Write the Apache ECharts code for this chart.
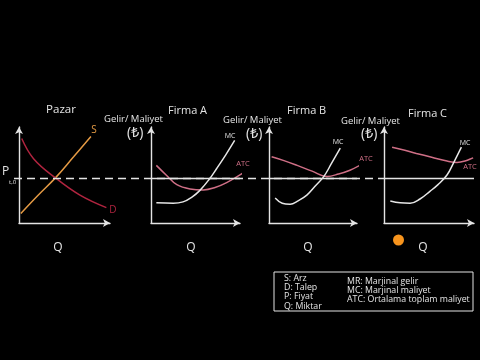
<!DOCTYPE html>
<html>
<head>
<meta charset="utf-8">
<script src="https://cdn.jsdelivr.net/npm/echarts@6/dist/echarts.min.js"></script>
<style>html,body{margin:0;padding:0;background:#000;}#c{width:480px;height:360px;}</style>
</head>
<body>
<div id="c"></div>
<script>
// ---- data (Q on x, price/cost on y, both 0-10 units) ----
const priceEq = 4.7;
const marketSupply = [[0.2, 1.0], [2.1, 2.9], [4.0, 4.7], [6.0, 6.9], [7.9, 9.0]];
const marketDemand = [[0.3, 8.8], [1.6, 6.7], [4.0, 4.7], [6.7, 2.9], [9.6, 1.6]];
const firmA_MC = [[0.6, 2.1], [2.5, 2.05], [3.6, 2.2], [4.6, 2.7], [5.5, 3.4], [6.5, 4.5], [7.4, 5.7], [8.4, 7.1], [9.4, 8.6]];
const firmA_ATC = [[0.6, 6.0], [1.7, 5.0], [2.9, 4.0], [4.4, 3.55], [5.9, 3.45], [7.2, 3.7], [8.5, 4.2], [10.5, 5.3]];
const firmB_MC = [[0.7, 2.6], [1.5, 2.05], [2.4, 1.95], [3.3, 2.3], [4.3, 2.9], [5.2, 3.8], [6.2, 4.8], [7.1, 6.2], [8.1, 7.8]];
const firmB_ATC = [[0.3, 6.9], [1.7, 6.5], [3.2, 6.0], [4.9, 5.4], [6.6, 4.85], [7.9, 5.1], [9.2, 5.5], [10.3, 6.0]];
const firmC_MC = [[0.7, 2.3], [1.8, 2.1], [2.9, 2.05], [4.0, 2.5], [5.1, 3.3], [6.0, 4.0], [7.0, 5.0], [7.8, 6.4], [8.6, 7.9]];
const firmC_ATC = [[0.9, 7.9], [2.2, 7.6], [3.6, 7.25], [5.3, 6.85], [7.0, 6.45], [8.1, 6.3], [9.0, 6.45], [9.9, 6.8]];
const panelTitles = ['Pazar', 'Firma A', 'Firma B', 'Firma C'];
const axisTitleY = 'Gelir/ Maliyet';
const currency = '(₺)';
const axisTitleX = 'Q';
const legendLeft = ['S: Arz', 'D: Talep', 'P: Fiyat', 'Q: Miktar'];
const legendRight = ['MR: Marjinal gelir', 'MC: Marjinal maliyet', 'ATC: Ortalama toplam maliyet'];

// ---- styles ----
const WHITE = '#e4e4e4';
const C_S = '#e49a44';
const C_D = '#b0243f';
const C_ATC = '#cf6f86';
const C_MC = '#e6e6e6';
const FONT = '"Open Sans", "Noto Sans", sans-serif';

const grids = [
  {left: 19, top: 127, width: 91, height: 96},
  {left: 151, top: 127, width: 89, height: 96},
  {left: 269, top: 127, width: 88, height: 96},
  {left: 384, top: 127, width: 90, height: 96},
  {left: 14, top: 127, width: 370, height: 96} // overlay for dashed price line
];

function axis(i, show) {
  return {
    type: 'value', gridIndex: i, min: 0, max: 10,
    axisLine: {show: show, onZero: false, symbol: ['none', 'arrow'], symbolSize: [6, 7],
      lineStyle: {color: WHITE, width: 1.4}},
    axisTick: {show: false}, axisLabel: {show: false}, splitLine: {show: false}
  };
}
const xAxes = [0, 1, 2, 3].map(i => axis(i, true)).concat([axis(4, false)]);
const yAxes = [0, 1, 2, 3].map(i => axis(i, true)).concat([axis(4, false)]);

function curve(i, data, color, extra) {
  return Object.assign({
    type: 'line', xAxisIndex: i, yAxisIndex: i, data: data, smooth: 0.4,
    showSymbol: false, symbol: 'none', clip: false, z: 3,
    lineStyle: {color: color, width: 1.5}
  }, extra || {});
}
function priceLine(dashed) {
  return {
    silent: true, symbol: ['none', 'none'], label: {show: false},
    lineStyle: {color: WHITE, width: 1.4, type: dashed ? [8, 5] : 'solid'},
    data: [{yAxis: priceEq}]
  };
}

const series = [
  {type: 'line', xAxisIndex: 4, yAxisIndex: 4, data: [], z: 1, markLine: priceLine(true)},
  curve(0, marketSupply, C_S),
  curve(0, marketDemand, C_D),
  curve(1, firmA_ATC, C_ATC),
  curve(1, firmA_MC, C_MC, {markLine: priceLine(false)}),
  curve(2, firmB_ATC, C_ATC),
  curve(2, firmB_MC, C_MC, {markLine: priceLine(false)}),
  curve(3, firmC_ATC, C_ATC),
  curve(3, firmC_MC, C_MC, {markLine: priceLine(false)})
];

function txt(x, y, s, size, color, align) {
  return {type: 'text', x: x, y: y, silent: true, z: 10,
    style: {text: s, fill: color || WHITE, font: size + 'px ' + FONT,
      align: align || 'left', verticalAlign: 'middle'}};
}

const graphic = [
  // market panel
  txt(61, 110, panelTitles[0], 11.5, WHITE, 'center'),
  txt(2, 172, 'P', 12),
  txt(9, 182, 't,0', 6),
  txt(94, 130, 'S', 10, C_S, 'center'),
  txt(113, 210, 'D', 10, C_D, 'center'),
  txt(58, 248, axisTitleX, 12, WHITE, 'center'),
  // firm A
  txt(104, 119, axisTitleY, 9.5),
  txt(168, 111, panelTitles[1], 11),
  txt(127, 133, currency, 14),
  txt(230, 136, 'MC', 7, WHITE, 'center'),
  txt(243, 164, 'ATC', 7.5, C_ATC, 'center'),
  txt(191, 248, axisTitleX, 12, WHITE, 'center'),
  // firm B
  txt(223, 120, axisTitleY, 9.5),
  txt(287, 111, panelTitles[2], 11),
  txt(246, 134, currency, 14),
  txt(338, 142, 'MC', 7, WHITE, 'center'),
  txt(366, 159, 'ATC', 7.5, C_ATC, 'center'),
  txt(308, 248, axisTitleX, 12, WHITE, 'center'),
  // firm C
  txt(341, 121, axisTitleY, 9.5),
  txt(408, 114, panelTitles[3], 11),
  txt(361, 134, currency, 14),
  txt(465, 143, 'MC', 7, WHITE, 'center'),
  txt(470, 167, 'ATC', 7.5, C_ATC, 'center'),
  txt(423, 248, axisTitleX, 12, WHITE, 'center'),
  // cursor dot
  {type: 'circle', shape: {cx: 398.5, cy: 240, r: 5.5}, style: {fill: '#f7941d'}, silent: true},
  // legend box
  {type: 'rect', shape: {x: 274, y: 272, width: 199, height: 39},
    style: {fill: 'none', stroke: WHITE, lineWidth: 1}, silent: true}
];
legendLeft.forEach((s, k) => graphic.push(txt(284, 278.5 + k * 9.2, s, 8.8, WHITE)));
legendRight.forEach((s, k) => graphic.push(txt(347, 281 + k * 9.2, s, 8.8, WHITE)));

const chart = echarts.init(document.getElementById('c'), null, {renderer: 'canvas'});
chart.setOption({
  backgroundColor: '#000',
  animation: false,
  grid: grids,
  xAxis: xAxes,
  yAxis: yAxes,
  series: series,
  graphic: graphic
});
</script>
</body>
</html>
